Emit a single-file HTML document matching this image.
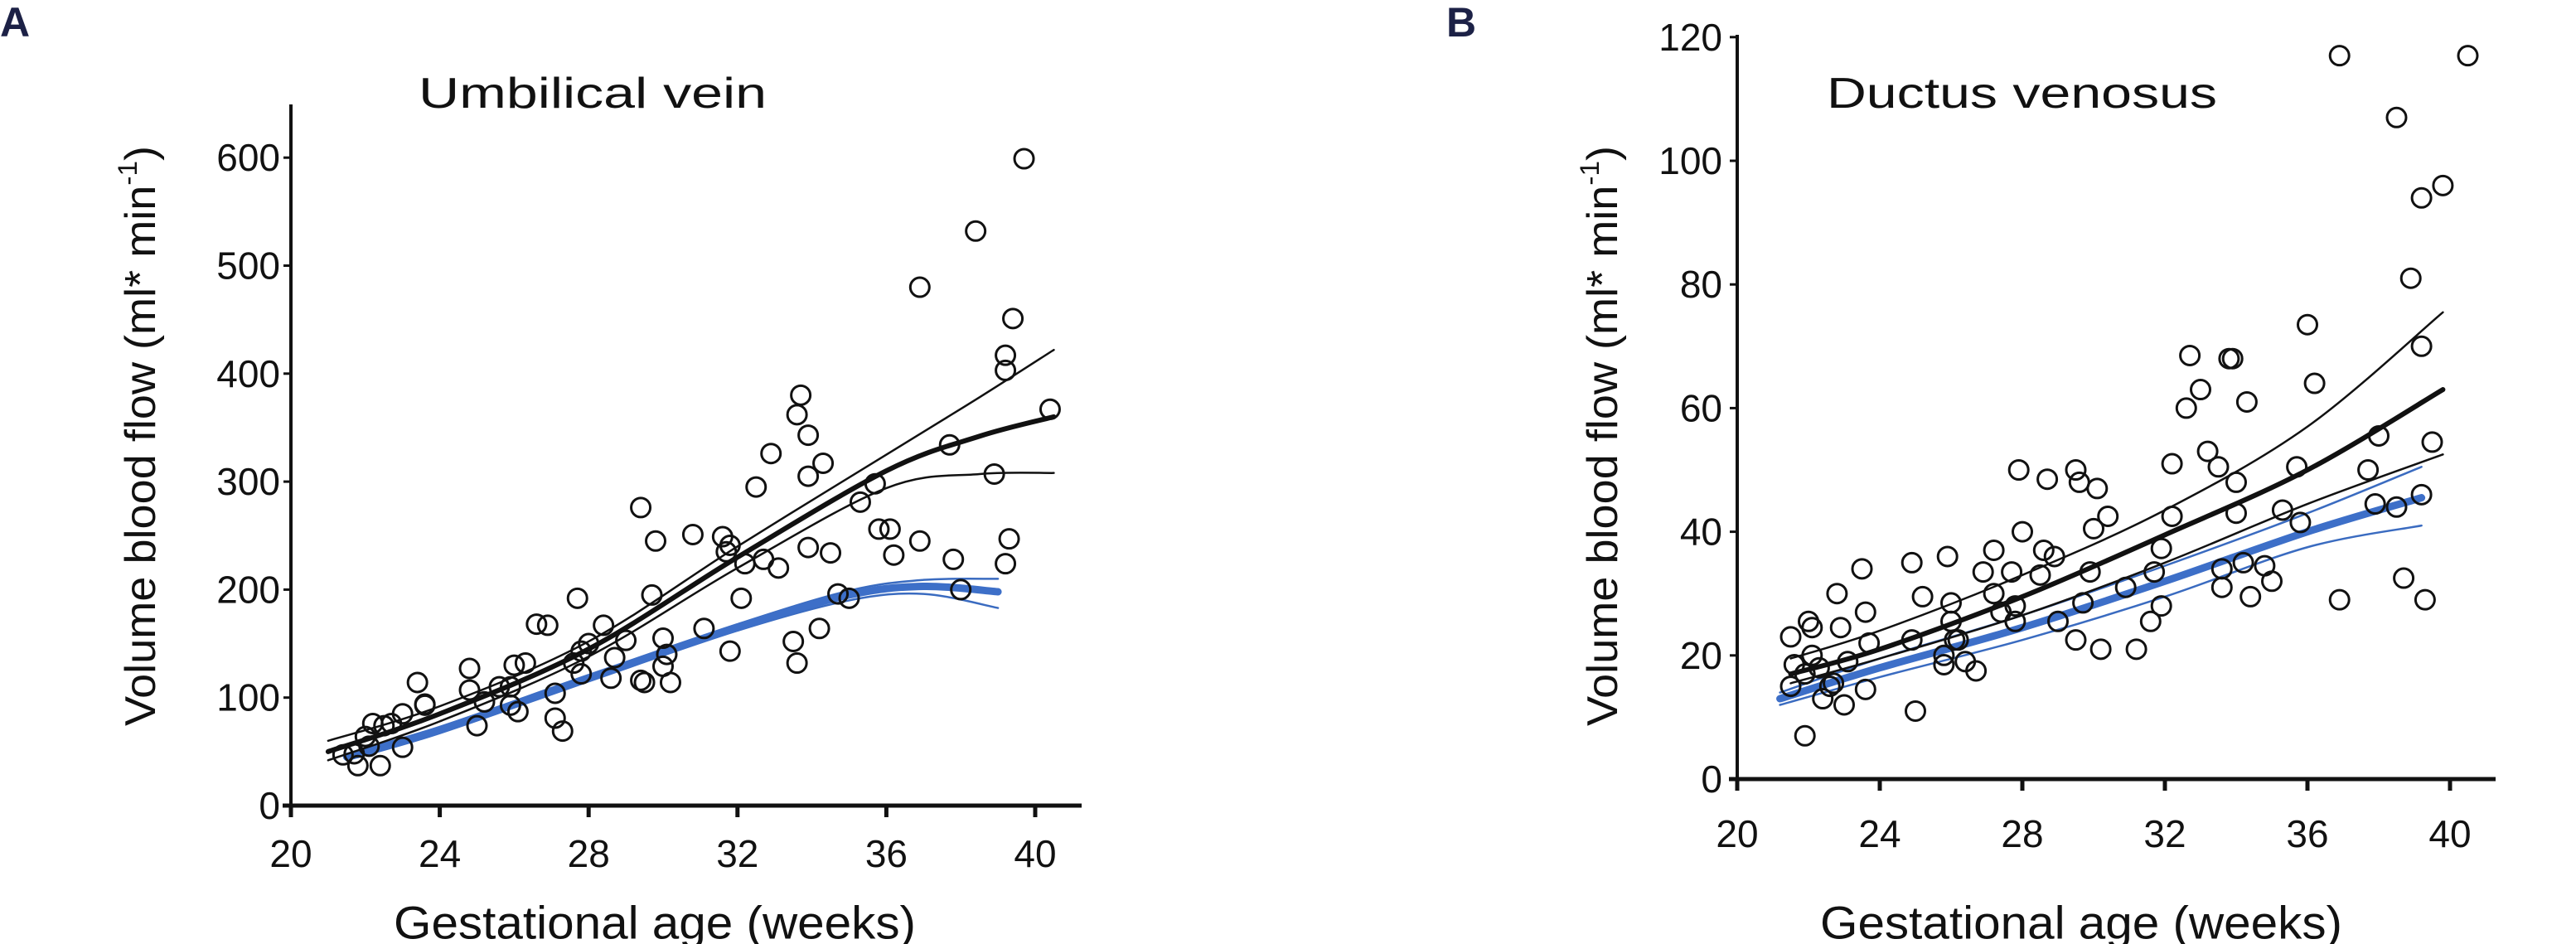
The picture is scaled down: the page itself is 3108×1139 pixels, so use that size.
<!DOCTYPE html>
<html><head><meta charset="utf-8"><style>
html,body{margin:0;padding:0;background:#fff;}
svg{display:block;}
text{font-family:"Liberation Sans",sans-serif;fill:#111;}
</style></head><body>
<svg id="chart" width="3108" height="1139" viewBox="0 0 3108 1139">
<text x="0" y="44" style="font-size:50px;font-weight:bold;fill:#1c2146">A</text>
<text x="1745" y="44" style="font-size:50px;font-weight:bold;fill:#1c2146">B</text>
<g id="pa"></g>
<g id="pb"></g>
</svg>
<script>
// ---- Panel A data (Umbilical vein) ----
const aXTicks = [20,24,28,32,36,40];
const aYTicks = [0,100,200,300,400,500,600];
const aPtsX = [39.7,38.4,36.9,39.4,39.2,39.2,40.4,33.7,33.6,33.9,34.3,33.9,32.9,32.5,37.7,38.9,35.7,35.3,29.4,29.8,30.8,31.6,31.8,31.7,32.2,32.7,33.1,33.9,34.5,35.8,36.1,36.2,36.9,37.8,39.3,39.2,38.0,34.7,35.0,29.7,32.1,31.1,31.8,33.5,33.6,34.2,27.7,26.6,26.9,28.4,28.0,27.8,27.6,27.8,28.6,28.7,29.0,30.0,30.1,30.0,29.4,29.5,30.2,27.1,27.1,27.3,26.3,26.0,25.9,25.9,26.1,25.6,24.8,24.8,25.0,25.2,23.4,23.6,23.6,23.0,23.0,22.2,22.5,22.0,22.7,22.4,21.8,21.7,21.4,22.1];
const aPtsY = [599,532,480,451,417,403,367,380,362,343,317,305,326,295,334,307,298,281,276,245,251,249,241,235,224,228,220,239,234,256,256,232,245,228,247,224,200,196,192,195,192,164,143,152,132,164,192,168,167,167,150,143,132,122,118,137,153,155,140,129,116,114,114,104,81,69,132,130,110,93,87,110,127,107,74,96,114,94,93,85,54,76,74,64,76,37,37,48,47,55];
const aCurveX = [21,24,28,32,36,38.5,40.5];
const aMean = [50,85,145,230,310,342,360];
const aUpper = [60,92,152,240,325,378,422];
const aLower = [42,78,138,220,294,307,308];
const aBlueX = [21.5,24,28,32,35,37,39];
const aBlue = [45,70,118,165,195,203,198];
const aBlueUp = [48,73,121,168,199,209,210];
const aBlueLo = [42,67,115,162,190,196,183];
// ---- Panel B data (Ductus venosus) ----
const bXTicks = [20,24,28,32,36,40];
const bYTicks = [0,20,40,60,80,100,120];
const bPtsX = [36.9,40.5,38.5,39.2,39.8,38.9,39.2,36.0,36.2,32.7,33.8,33.9,33.0,32.6,34.3,38.0,39.5,33.2,33.5,34.0,32.2,35.7,37.7,37.9,38.5,39.2,35.3,35.8,34.0,32.2,27.9,28.7,29.5,29.6,30.1,30.4,30.0,28.0,27.2,28.6,28.9,27.7,26.9,28.5,29.9,31.9,31.7,33.6,34.2,34.8,33.6,35.0,30.9,29.7,31.9,31.6,31.2,30.2,29.5,29.0,34.4,36.9,38.7,39.3,24.9,25.9,23.5,22.8,23.6,25.2,26.0,26.0,27.2,27.4,27.8,27.8,26.1,26.2,24.9,23.7,25.8,25.8,26.4,26.7,22.9,22.0,22.1,21.5,22.1,21.6,22.3,21.5,21.9,22.6,22.7,22.4,23.0,23.6,23.1,25.0,21.9];
const bPtsY = [117,117,107,94,96,81,70,73.5,64,68.5,68,68,63,60,61,55.5,54.5,53,50.5,48,51,50.5,50,44.5,44,46,43.5,41.5,43,42.5,50,48.5,50,48,47,42.5,40.5,40,37,37,36,33.5,33.5,33,33.5,37.3,33.5,34,35,34.5,31,32,31,28.5,28,25.5,21,21,22.5,25.5,29.5,29,32.5,29,35,36,34,30,27,29.5,28.5,25.5,30,27,28,25.5,22.5,22.5,22.5,22,20,18.5,19,17.5,24.5,25.5,24.5,23,20,18.5,18,15,17,15,15.5,13,12,14.5,19,11,7];
const bCurveX = [21.5,24,28,32,36,39.8];
const bMean = [17,21,29.5,39.5,50,63];
const bUpper = [19.5,24,33,43.5,57,75.5];
const bLower = [15.5,19.5,26.5,35,44.5,52.5];
const bBlueX = [21.2,24,28,32,36,39.2];
const bBlue = [13,18,24.5,32,40,45.5];
const bBlueUp = [14,19.5,26.5,34.5,43,50.5];
const bBlueLo = [12,16.5,22.5,29.5,37.5,41];

const NS='http://www.w3.org/2000/svg';
function mk(parent,tag,attrs){const e=document.createElementNS(NS,tag);for(const k in attrs)e.setAttribute(k,attrs[k]);parent.appendChild(e);return e;}
function spline(pts){
  let d='M'+pts[0][0].toFixed(1)+','+pts[0][1].toFixed(1);
  for(let i=0;i<pts.length-1;i++){
    const p0=pts[Math.max(i-1,0)],p1=pts[i],p2=pts[i+1],p3=pts[Math.min(i+2,pts.length-1)];
    const c1=[p1[0]+(p2[0]-p0[0])/6,p1[1]+(p2[1]-p0[1])/6];
    const c2=[p2[0]-(p3[0]-p1[0])/6,p2[1]-(p3[1]-p1[1])/6];
    d+=' C'+c1.join(',')+' '+c2.join(',')+' '+p2.join(',');
  }
  return d;
}
function panel(cfg){
  const g=document.getElementById(cfg.id);
  const X=v=>cfg.x0+(v-20)*cfg.xs;
  const Y=v=>cfg.y0-v*cfg.ys;
  // axes
  const ya=mk(g,'line',{x1:cfg.x0,y1:cfg.yTop,x2:cfg.x0,y2:cfg.y0+2,stroke:'#111','stroke-width':4});
  
  
  const xa=mk(g,'line',{x1:cfg.x0-10,y1:cfg.y0,x2:cfg.xEnd,y2:cfg.y0,stroke:'#111','stroke-width':5});
  
  
  cfg.yt.forEach(v=>{
    const t=mk(g,'line',{x1:cfg.x0-9,y1:Y(v),x2:cfg.x0,y2:Y(v),stroke:'#111','stroke-width':3});
    
    
    const l=mk(g,'text',{x:cfg.ylx,y:Y(v),'text-anchor':'end','dominant-baseline':'central','font-size':46});
    
    
    l.textContent=v;
  });
  cfg.xt.forEach(v=>{
    const t=mk(g,'line',{x1:X(v),y1:cfg.y0,x2:X(v),y2:cfg.y0+14,stroke:'#111','stroke-width':5});
    
    
    const l=mk(g,'text',{x:X(v),y:cfg.xly,'text-anchor':'middle','dominant-baseline':'central','font-size':46});
    
    
    l.textContent=v;
  });
  // curves
  const curve=(xs,ys,color,w,name)=>{
    const p=mk(g,'path',{d:spline(xs.map((x,i)=>[X(x),Y(ys[i])])),fill:'none',stroke:color,'stroke-width':w,'stroke-linecap':'round'});
    
    
  };
  curve(cfg.bx,cfg.bu,'#3a6bc0',2.5,'blue-upper-bound');
  curve(cfg.bx,cfg.bl,'#3a6bc0',2.5,'blue-lower-bound');
  curve(cfg.bx,cfg.bm,'#3d6fc8',9,'blue-fit-line');
  curve(cfg.cx,cfg.cu,'#111',2.5,'upper-bound-line');
  curve(cfg.cx,cfg.cl,'#111',2.5,'lower-bound-line');
  curve(cfg.cx,cfg.cm,'#111',6,'mean-fit-line');
  cfg.px.forEach((x,i)=>{
    const c=mk(g,'circle',{cx:X(x),cy:Y(cfg.py[i]),r:11.5,fill:'none',stroke:'#111','stroke-width':3});
    
    
  });
  const xt=mk(g,'text',{x:cfg.xtx,y:1113,'text-anchor':'middle','dominant-baseline':'central','font-size':56,textLength:630,lengthAdjust:'spacingAndGlyphs'});
  
  
  xt.textContent='Gestational age (weeks)';
  const yt=mk(g,'text',{x:0,y:0,'text-anchor':'middle','dominant-baseline':'central','font-size':52,textLength:700,lengthAdjust:'spacingAndGlyphs',transform:`translate(${cfg.ytx},526) rotate(-90)`});
  
  
  yt.innerHTML='Volume blood flow (ml* min<tspan dy="-16" font-size="32">-1</tspan><tspan dy="16">)</tspan>';
  const tt=mk(g,'text',{x:cfg.tx,y:113,'dominant-baseline':'central','font-size':52,textLength:cfg.tw,lengthAdjust:'spacingAndGlyphs'});
  
  
  tt.textContent=cfg.title;
}
panel({id:'pa',x0:351,xs:44.9,y0:972,ys:1.303,yTop:126,xEnd:1305,ylx:338,xly:1030,xt:aXTicks,yt:aYTicks,
  px:aPtsX,py:aPtsY,cx:aCurveX,cm:aMean,cu:aUpper,cl:aLower,bx:aBlueX,bm:aBlue,bu:aBlueUp,bl:aBlueLo,
  xtx:790,ytx:170,tx:505,tw:420,title:'Umbilical vein'});
panel({id:'pb',x0:2096,xs:43,y0:940,ys:7.46,yTop:42,xEnd:3011,ylx:2078,xly:1006,xt:bXTicks,yt:bYTicks,
  px:bPtsX,py:bPtsY,cx:bCurveX,cm:bMean,cu:bUpper,cl:bLower,bx:bBlueX,bm:bBlue,bu:bBlueUp,bl:bBlueLo,
  xtx:2511,ytx:1934,tx:2204,tw:471,title:'Ductus venosus'});
</script>
</body></html>
